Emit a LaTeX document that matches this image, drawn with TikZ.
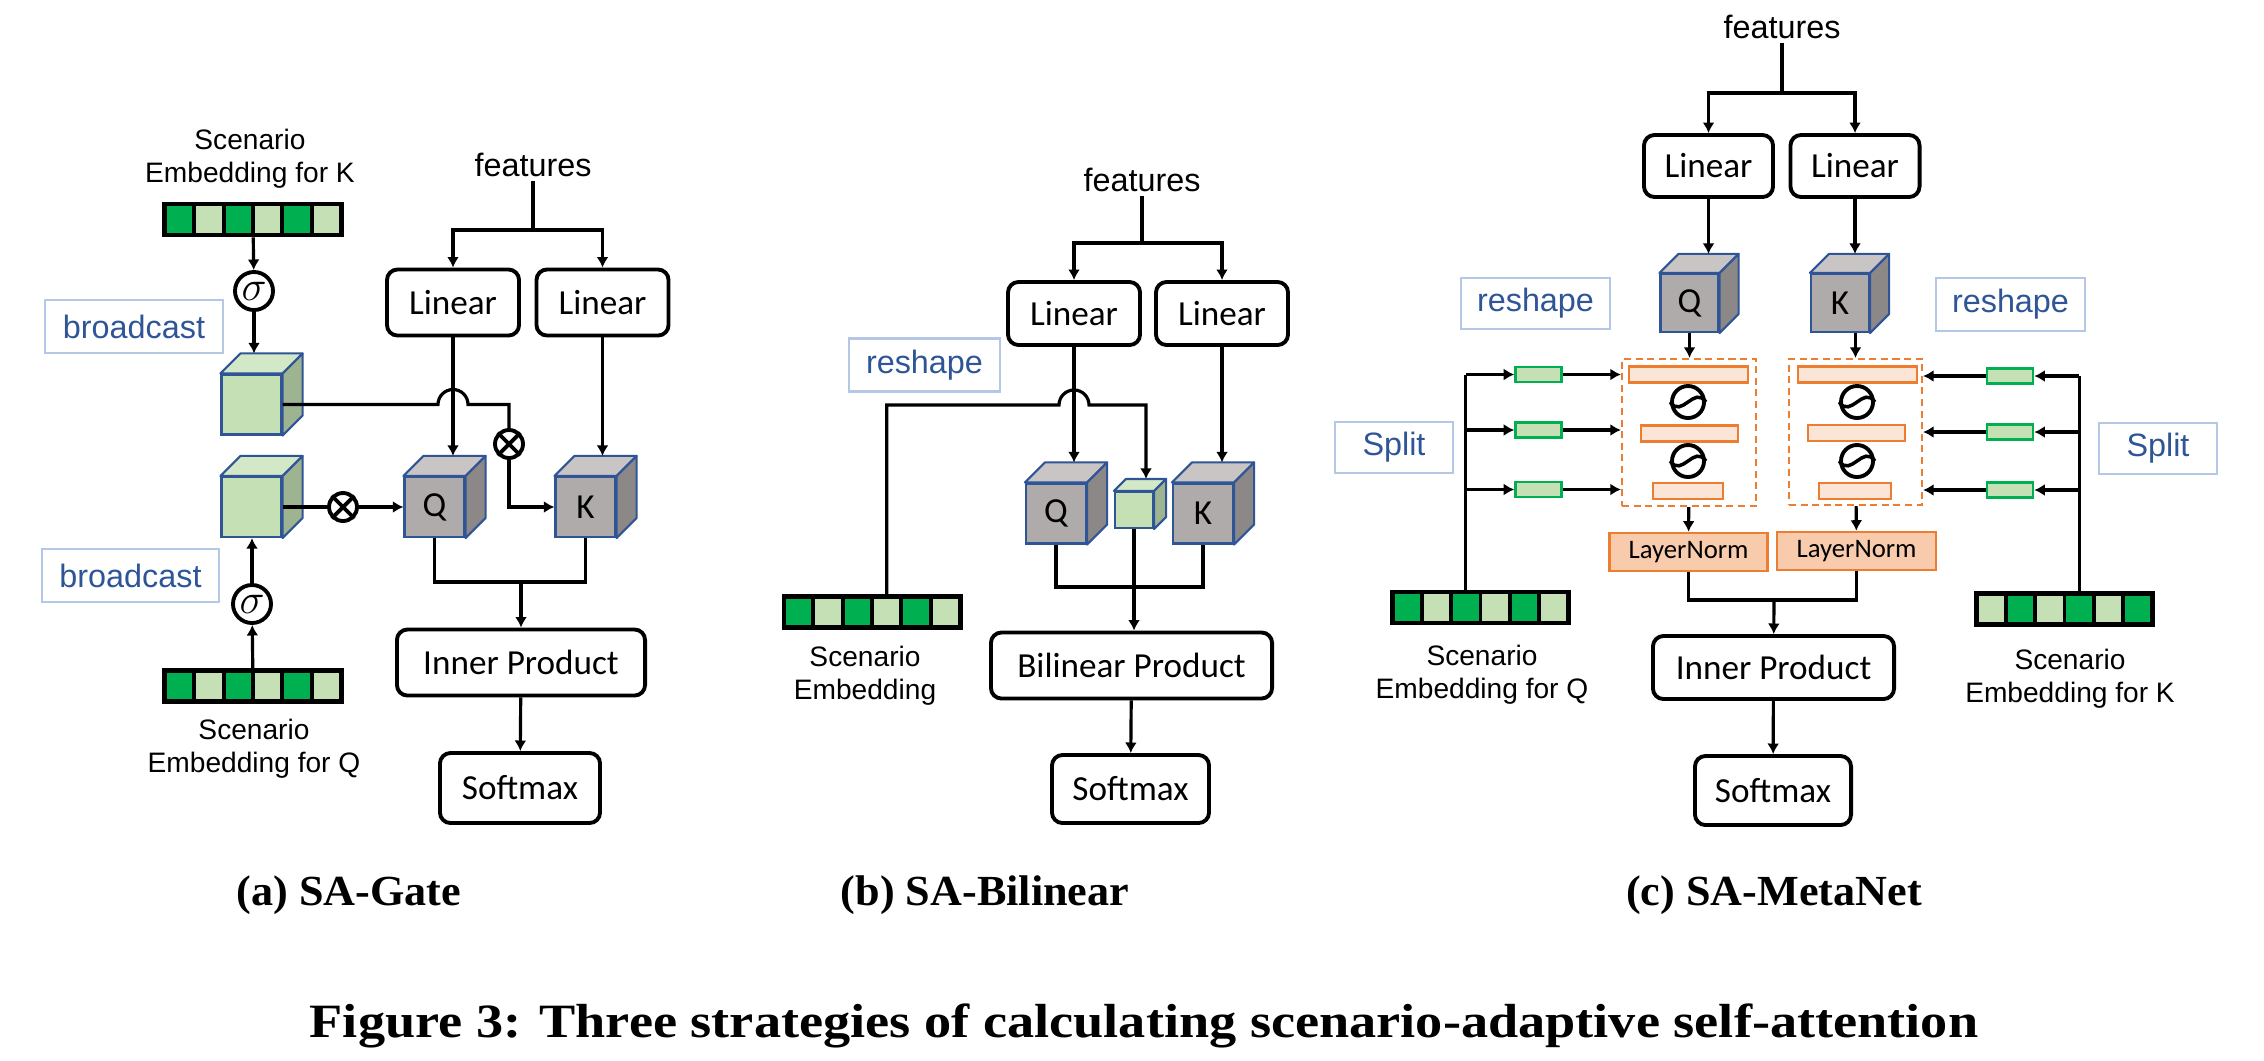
\documentclass[tikz,border=0pt]{standalone}
\usepackage{fontspec}
\usetikzlibrary{arrows.meta,calc}

\newfontfamily\boxfont{Carlito}
\newfontfamily\labfont{Liberation Sans}
\newfontfamily\capfont[FakeStretch=1.135]{Liberation Serif}
\newfontfamily\subcapfont[FakeStretch=1.03]{Liberation Serif}

\definecolor{embdark}{HTML}{00B050}
\definecolor{emblight}{HTML}{C5E0B4}
\definecolor{cubeline}{HTML}{2F5597}
\definecolor{cubegray}{HTML}{AFABAB}
\definecolor{cubegraytop}{HTML}{C9C5C5}
\definecolor{cubegrayside}{HTML}{8C8888}
\definecolor{cubegreen}{HTML}{C5E0B4}
\definecolor{cubegreentop}{HTML}{D3E8C6}
\definecolor{cubegreenside}{HTML}{9EB38F}
\definecolor{tagedge}{HTML}{B4C7E7}
\definecolor{tagblue}{HTML}{2F5597}
\definecolor{mnorange}{HTML}{ED7D31}
\definecolor{mnfill}{HTML}{FBE5D6}
\definecolor{lnfill}{HTML}{F8CBAD}

% CUBE: front face is the named node, top and side faces hang off its anchors
% [opts]{name}{position}{label}{colour}{depth}
\newcommand{\qkcube}[6][]{%
  \node[cubeface, fill=#5, #1] (#2) at (#3) {#4};
  \draw[cubepart, fill=#5top] (#2.north west) -- ([shift={(#6,-#6)}]#2.north west)
     -- ([shift={(#6,-#6)}]#2.north east) -- (#2.north east) -- cycle;
  \draw[cubepart, fill=#5side] (#2.north east) -- ([shift={(#6,-#6)}]#2.north east)
     -- ([shift={(#6,-#6)}]#2.south east) -- (#2.south east) -- cycle;
  \coordinate (#2-top) at ([shift={(#6,-#6)}]#2.north);
}

% EMBEDDING BAR: six cells, two alternating colours
% {name}{position}{first colour}{second colour}
\newcommand{\embbar}[4]{%
  \coordinate (#1-c) at (#2);
  \foreach \k/\c in {0/#3,1/#4,2/#3,3/#4,4/#3,5/#4}
    \node[embcell, fill=\c] at ([xshift=(\k-2.5)*0.29333cm]#1-c) {};
  \node[embbar] (#1) at (#2) {};
}

\begin{document}
\begin{tikzpicture}[
    x=0.01cm, y=-0.01cm, % one unit = one pixel of the page, y grows downwards
    >={Latex[length=3pt,width=3.4pt]},
    wire/.style={line width=0.9pt},
    arr/.style={line width=0.9pt,->},
    % operation boxes: adjust width per box, height shared
    opbox/.style={draw,rounded corners=3pt,line width=1.1pt,fill=white,inner sep=2pt,
        minimum width=#1,minimum height=0.66cm,font=\boxfont\fontsize{10}{12}\selectfont},
    opbox/.default=1.32cm,
    % blue annotation boxes
    tagbox/.style={draw=tagedge,line width=0.8pt,text=tagblue,inner sep=2pt,
        minimum width=#1,minimum height=0.53cm,font=\labfont\fontsize{9.2}{11}\selectfont},
    lbl/.style={align=center,inner sep=0pt,font=\labfont\fontsize{8}{9.4}\selectfont},
    feat/.style={inner sep=1pt,font=\labfont\fontsize{9.2}{11}\selectfont},
    cubeface/.style={draw=cubeline,line width=0.6pt,minimum width=0.6cm,minimum height=0.6cm,
        inner sep=0pt,font=\boxfont\fontsize{10}{12}\selectfont},
    cubepart/.style={draw=cubeline,line width=0.6pt,line join=round},
    embcell/.style={draw,line width=1.1pt,minimum width=0.29333cm,minimum height=0.31cm,
        inner sep=0pt,outer sep=0pt},
    embbar/.style={draw,line width=1.4pt,minimum width=1.76cm,minimum height=0.31cm,inner sep=0pt},
    sig/.style={circle,draw,line width=1.1pt,minimum size=0.38cm,inner sep=0pt,
        font=\fontsize{13}{14}\selectfont},
    mul/.style={circle,draw,line width=1.1pt,minimum size=0.28cm,inner sep=0pt},
    tanhc/.style={circle,draw,line width=1.1pt,minimum size=0.32cm,inner sep=0pt},
    mnbox/.style={draw=mnorange,line width=0.6pt,dash pattern=on 2pt off 1.3pt,
        minimum width=1.34cm,minimum height=1.47cm,inner sep=0pt},
    mnbar/.style={draw=mnorange,fill=mnfill,line width=0.6pt,minimum width=#1,
        minimum height=0.16cm,inner sep=0pt},
    lnbox/.style={draw=mnorange,fill=lnfill,line width=0.7pt,minimum width=1.58cm,
        minimum height=0.38cm,inner sep=0pt,font=\boxfont\fontsize{7.6}{9}\selectfont},
    sprect/.style={draw=embdark,fill=emblight,line width=0.7pt,minimum width=0.46cm,
        minimum height=0.15cm,inner sep=0pt},
    subcap/.style={anchor=base,inner sep=0pt,font=\subcapfont\bfseries\fontsize{12.2}{14}\selectfont},
    figcap/.style={anchor=base,inner sep=0pt,font=\capfont\bfseries\fontsize{13.6}{16}\selectfont}
]
\useasboundingbox (0,0) rectangle (2264,1060);

% ==============================
% TUNING KNOBS
% ==============================
\def\yCube{507}   % row of the Q/K cubes in (a)
\def\yCubeB{513.5} % row of the Q/K cubes in (b)
\def\yCubeC{303}  % row of the Q/K cubes in (c)

% ==============================
% (a) SA-GATE
% ==============================
\node[feat] (featA) at (533,165) {features};
\coordinate (fA) at (533,230);
\node[opbox] (linQa) at (453,302.5) {Linear};
\node[opbox] (linKa) at (602.5,302.5) {Linear};

\node[lbl] (lbKa) at (250,158.5) {Scenario\\Embedding for K};
\embbar{eKa}{253,219.5}{embdark}{emblight}
\node[sig] (sgKa) at (254,291) {$\sigma$};
\node[tagbox=1.78cm] (bcKa) at (134,326.5) {broadcast};
\qkcube{gKa}{251.5,404.5}{}{cubegreen}{20}

\qkcube{gQa}{251.5,\yCube}{}{cubegreen}{20}
\qkcube{Qa}{434.5,\yCube}{Q}{cubegray}{20}
\qkcube{Ka}{585.5,\yCube}{K}{cubegray}{20}
\node[mul] (mulK) at (509,444) {};
\node[mul] (mulQ) at (343,\yCube) {};
\draw[line width=1.1pt] (mulK.45) -- (mulK.225) (mulK.135) -- (mulK.315);
\draw[line width=1.1pt] (mulQ.45) -- (mulQ.225) (mulQ.135) -- (mulQ.315);

\node[tagbox=1.77cm] (bcQa) at (130.5,575.5) {broadcast};
\node[sig] (sgQa) at (252,604) {$\sigma$};
\embbar{eQa}{253,686}{embdark}{emblight}
\node[lbl] (lbQa) at (254,748.5) {Scenario\\Embedding for Q};

\coordinate (jA) at (521,582);
\node[opbox=2.48cm] (IPa) at (521,662.5) {Inner Product};
\node[opbox=1.6cm, minimum height=0.7cm] (SMa) at (520,788) {Softmax};

% connectors (a)
\draw[wire] (featA) -- (fA);
\draw[arr] (fA) -| (linQa);
\draw[arr] (fA) -| (linKa);
\draw[arr] (linQa) -- (linQa |- Qa-top);
\draw[arr] (linKa) -- (linKa |- Ka-top);
\draw[arr] (eKa) -- (sgKa);
\draw[arr] (sgKa) -- (sgKa |- gKa-top);
\coordinate (hopa) at (453,404.5);
\draw[wire] (gKa.east) -- ([xshift=-0.15cm]hopa) arc[start angle=180,end angle=0,radius=0.15cm] -| (mulK);
\draw[arr] (mulK) |- (Ka);
\draw[wire] (gQa) -- (mulQ);
\draw[arr] (mulQ) -- (Qa);
\draw[arr] (eQa) -- (sgQa);
\draw[arr] (sgQa) -- (sgQa |- gQa.south);
\draw[wire] (Qa.south) |- (jA) -| (Ka.south);
\draw[arr] (jA) -- (IPa);
\draw[arr] (IPa) -- (SMa);

\node[subcap] (capA) at (349,905) {(a) SA-Gate};

% ==============================
% (b) SA-BILINEAR
% ==============================
\node[feat] (featB) at (1142,180) {features};
\coordinate (fB) at (1142,243);
\node[opbox, minimum height=0.63cm] (linQb) at (1074,313.5) {Linear};
\node[opbox, minimum height=0.63cm] (linKb) at (1222,313.5) {Linear};
\node[tagbox=1.51cm] (rsb) at (924.5,365) {reshape};

\qkcube{Qb}{1056,\yCubeB}{Q}{cubegray}{20}
\qkcube[minimum width=0.38cm, minimum height=0.36cm]{gb}{1134,510}{}{cubegreen}{12}
\qkcube{Kb}{1203,\yCubeB}{K}{cubegray}{20}

\embbar{eb}{872,612}{embdark}{emblight}
\node[lbl] (lbb) at (865,676) {Scenario\\Embedding};
\coordinate (jB) at (1134,587);
\node[opbox=2.81cm] (BPb) at (1131.5,665.5) {Bilinear Product};
\node[opbox=1.57cm, minimum height=0.68cm] (SMb) at (1130.5,789) {Softmax};

% connectors (b)
\draw[wire] (featB) -- (fB);
\draw[arr] (fB) -| (linQb);
\draw[arr] (fB) -| (linKb);
\draw[arr] (linQb) -- (linQb |- Qb-top);
\draw[arr] (linKb) -- (linKb |- Kb-top);
\coordinate (sb) at ([xshift=0.14667cm]eb.north);
\coordinate (hopb) at (1074,405);
\draw[arr] (sb) |- ([xshift=-0.15cm]hopb) arc[start angle=180,end angle=0,radius=0.15cm] -| (gb-top);
\draw[wire] (Qb.south) |- (jB) -| (Kb.south);
\draw[arr] (gb.south) -- (gb.south |- BPb.north);
\draw[arr] (BPb) -- (SMb);

\node[subcap] (capB) at (985,905) {(b) SA-Bilinear};

% ==============================
% (c) SA-METANET
% ==============================
\node[feat] (featC) at (1782,27) {features};
\coordinate (fC) at (1782,93);
\node[opbox=1.29cm, minimum height=0.62cm] (linQc) at (1708.5,166) {Linear};
\node[opbox=1.29cm, minimum height=0.62cm] (linKc) at (1855,166) {Linear};
\qkcube[minimum width=0.58cm, minimum height=0.58cm]{Qc}{1689.5,\yCubeC}{Q}{cubegray}{19}
\qkcube[minimum width=0.58cm, minimum height=0.58cm]{Kc}{1840,\yCubeC}{K}{cubegray}{19}
\node[tagbox=1.49cm, minimum height=0.51cm] (rsQc) at (1535.5,303.5) {reshape};
\node[tagbox=1.49cm] (rsKc) at (2010.5,304.5) {reshape};

% meta networks: bars and tanh between them
\node[mnbox] (mnQ) at (1689,432.5) {};
\node[mnbox, minimum width=1.33cm, minimum height=1.46cm] (mnK) at (1855.5,432) {};
\node[mnbar=1.19cm] (bQ1) at (1688.5,374.5) {};
\node[mnbar=0.97cm] (bQ2) at (1689.5,433.5) {};
\node[mnbar=0.70cm] (bQ3) at (1688,491) {};
\node[mnbar=1.19cm] (bK1) at (1857.5,374.5) {};
\node[mnbar=0.97cm] (bK2) at (1856.5,433) {};
\node[mnbar=0.72cm] (bK3) at (1855,491) {};
\node[tanhc] (tQ1) at (1688,402) {};
\node[tanhc] (tQ2) at (1688,461) {};
\node[tanhc] (tK1) at (1857,402) {};
\node[tanhc] (tK2) at (1857,461) {};
\foreach \t in {tQ1,tQ2,tK1,tK2}
  \draw[line width=1pt] (\t.west) .. controls ([shift={(-6,17)}]\t.center)
     and ([shift={(6,-17)}]\t.center) .. (\t.east);

% split parameters
\node[sprect] (gQ1) at (1538.5,374.5) {};
\node[sprect] (gQ2) at (1538.5,430) {};
\node[sprect] (gQ3) at (1538.5,489.5) {};
\node[sprect] (gK1) at (2010,376) {};
\node[sprect] (gK2) at (2010,432) {};
\node[sprect] (gK3) at (2010,490) {};
\node[tagbox=1.18cm, minimum height=0.51cm] (spQ) at (1394,447.5) {Split};
\node[tagbox=1.18cm, minimum height=0.51cm] (spK) at (2158,448.5) {Split};

\embbar{eQc}{1480.5,607.5}{embdark}{emblight}
\embbar{eKc}{2064.5,609}{emblight}{embdark}
\node[lbl] (lbQc) at (1482,675) {Scenario\\Embedding for Q};
\node[lbl] (lbKc) at (2070,679) {Scenario\\Embedding for K};

\node[lnbox] (lnQ) at (1688.5,552) {LayerNorm};
\node[lnbox, minimum width=1.59cm] (lnK) at (1856.5,551) {LayerNorm};
\coordinate (jC) at (1774,600);
\node[opbox=2.41cm, minimum height=0.63cm] (IPc) at (1773.5,667.5) {Inner Product};
\node[opbox=1.56cm, minimum height=0.69cm] (SMc) at (1773,790.5) {Softmax};

% connectors (c)
\draw[wire] (featC) -- (fC);
\draw[arr] (fC) -| (linQc);
\draw[arr] (fC) -| (linKc);
\draw[arr] (linQc) -- (linQc |- Qc-top);
\draw[arr] (linKc) -- (linKc |- Kc-top);
\draw[arr] (Qc.south) -- (Qc.south |- mnQ.north);
\draw[arr] (Kc.south -| mnK) -- (mnK);
\coordinate (sQ) at ([xshift=-0.14667cm]eQc.north);
\coordinate (sK) at ([xshift=0.14667cm]eKc.north);
\draw[wire] (sQ) -- (sQ |- gQ1);
\draw[wire] (sK) -- (sK |- gK1);
\foreach \g in {gQ1,gQ2,gQ3} {
  \draw[arr] (sQ |- \g) -- (\g);
  \draw[arr] (\g) -- (\g -| mnQ.west);
}
\foreach \g in {gK1,gK2,gK3} {
  \draw[arr] (sK |- \g) -- (\g);
  \draw[arr] (\g) -- (\g -| mnK.east);
}
\draw[arr] (mnQ) -- (lnQ);
\draw[arr] (mnK) -- (lnK);
\draw[wire] (lnQ) |- (jC) -| (lnK);
\draw[arr] (jC) -- (IPc);
\draw[arr] (IPc) -- (SMc);

\node[subcap] (capC) at (1774,905) {(c) SA-MetaNet};

% ==============================
% FIGURE CAPTION
% ==============================
\node[figcap] (figcap) at (1144,1037) {Figure 3: Three strategies of calculating scenario-adaptive self-attention};
\end{tikzpicture}
\end{document}
